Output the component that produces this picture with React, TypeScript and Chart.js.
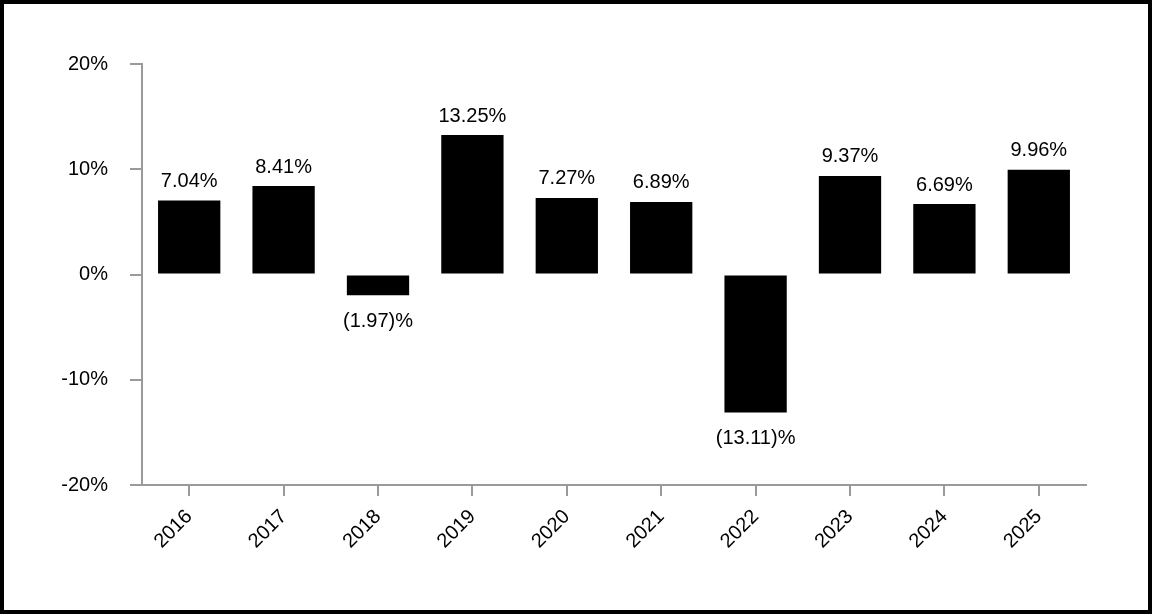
import React, { useEffect, useRef } from "react";
import { Chart, registerables } from "chart.js";

Chart.register(...registerables);

const years = ["2016", "2017", "2018", "2019", "2020", "2021", "2022", "2023", "2024", "2025"];
const returns = [7.04, 8.41, -1.97, 13.25, 7.27, 6.89, -13.11, 9.37, 6.69, 9.96];
const yTicks = [-20, -10, 0, 10, 20];

const FONT = 'Arial, "Liberation Sans", sans-serif';
const AXIS_GRAY = "#9a9a9a";

function fmt(v: number): string {
  return v < 0 ? `(${Math.abs(v).toFixed(2)})%` : `${v.toFixed(2)}%`;
}

const framePlugin = {
  id: "frame",
  beforeDraw(chart: any) {
    const ctx = chart.ctx;
    ctx.save();
    ctx.fillStyle = "#ffffff";
    ctx.fillRect(0, 0, chart.width, chart.height);
    ctx.restore();
  },
  afterDraw(chart: any) {
    const ctx = chart.ctx;
    ctx.save();
    ctx.strokeStyle = "#000000";
    ctx.lineWidth = 4;
    ctx.strokeRect(2, 2, chart.width - 4, chart.height - 4);
    ctx.restore();
  },
};

const valueLabelPlugin = {
  id: "valueLabels",
  afterDatasetsDraw(chart: any) {
    const ctx = chart.ctx;
    const meta = chart.getDatasetMeta(0);
    ctx.save();
    ctx.font = `20px ${FONT}`;
    ctx.fillStyle = "#000000";
    ctx.textAlign = "center";
    ctx.textBaseline = "middle";
    meta.data.forEach((el: any, i: number) => {
      const v = returns[i];
      const y = v >= 0 ? el.y - 19 : el.y + 26;
      ctx.fillText(fmt(v), el.x, y);
    });
    ctx.restore();
  },
};

export default function App() {
  const ref = useRef<HTMLCanvasElement | null>(null);

  useEffect(() => {
    if (!ref.current) return;
    const chart = new Chart(ref.current, {
      type: "bar",
      data: {
        labels: years,
        datasets: [
          {
            data: returns,
            backgroundColor: "#000000",
            borderWidth: 0,
            barPercentage: 0.66,
            categoryPercentage: 1,
          },
        ],
      },
      options: {
        animation: false,
        responsive: false,
        maintainAspectRatio: false,
        layout: { padding: { top: 64, right: 66, left: 0, bottom: 0 } },
        plugins: {
          legend: { display: false },
          tooltip: { enabled: false },
        },
        scales: {
          x: {
            grid: {
              display: true,
              drawOnChartArea: false,
              drawTicks: true,
              tickLength: 11,
              offset: false,
              color: AXIS_GRAY,
              lineWidth: 2,
            },
            border: { display: true, color: AXIS_GRAY, width: 2 },
            ticks: {
              color: "#000000",
              font: { family: FONT, size: 20 },
              maxRotation: 45,
              minRotation: 45,
              padding: 9,
            },
            afterFit(scale: any) {
              scale.height = 129;
            },
          },
          y: {
            min: -20,
            max: 20,
            afterBuildTicks(scale: any) {
              scale.ticks = yTicks.map((v) => ({ value: v }));
            },
            grid: {
              display: true,
              drawOnChartArea: false,
              drawTicks: true,
              tickLength: 12,
              color: AXIS_GRAY,
              lineWidth: 2,
            },
            border: { display: true, color: AXIS_GRAY, width: 2 },
            ticks: {
              color: "#000000",
              font: { family: FONT, size: 20 },
              padding: 22,
              callback: (v: any) => `${v}%`,
            },
            afterFit(scale: any) {
              scale.width = 142;
            },
          },
        },
      },
      plugins: [framePlugin, valueLabelPlugin],
    });
    return () => chart.destroy();
  }, []);

  return (
    <div style={{ position: "absolute", left: 0, top: 0, width: 1152, height: 614 }}>
      <canvas ref={ref} width={1152} height={614} style={{ display: "block", width: 1152, height: 614 }} />
    </div>
  );
}
